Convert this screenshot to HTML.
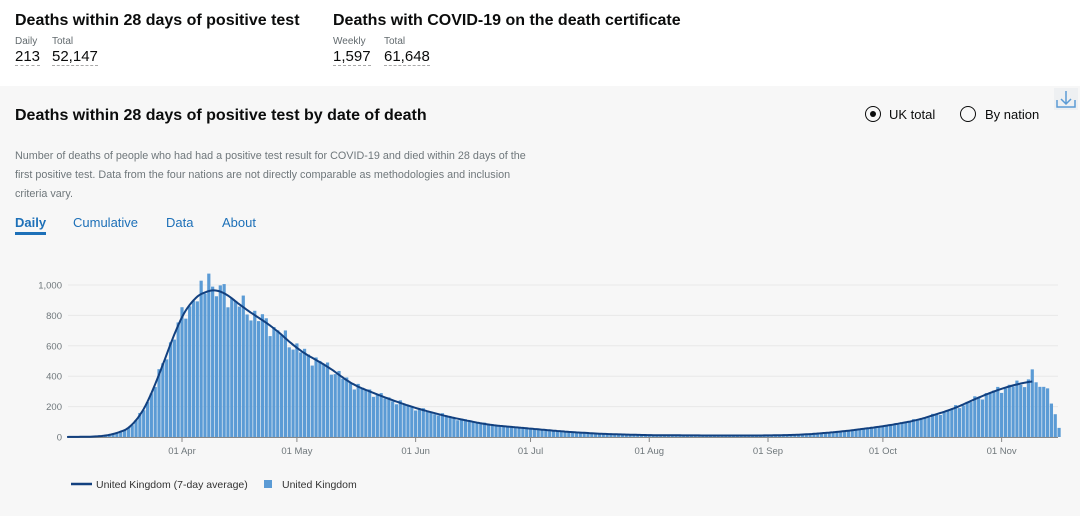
<!DOCTYPE html>
<html><head><meta charset="utf-8"><style>
body{margin:0;width:1080px;height:516px;overflow:hidden;background:#fff;font-family:"Liberation Sans",sans-serif;color:#0b0c0c}
.top{position:absolute;top:0;left:0;width:1080px;height:86px;background:#fff}
h2{position:absolute;margin:0;font-size:16px;font-weight:bold;top:12px}
.lbl{position:absolute;font-size:10px;color:#626a6e;top:36px}
.num{position:absolute;font-size:15px;top:48px;border-bottom:1px dashed #aaa;line-height:17px}
.card{position:absolute;top:86px;left:0;width:1080px;height:430px;background:#f7f7f7}
.t{position:absolute;left:15px;top:107px;font-size:16px;font-weight:bold;margin:0}
.desc{position:absolute;left:15px;top:147px;width:580px;font-size:10.8px;line-height:19px;color:#6f777b;white-space:nowrap}
.tab{position:absolute;top:215px;font-size:13px;color:#1d70b8}
.rad{position:absolute;top:106px;width:14px;height:14px;border:1.5px solid #0b0c0c;border-radius:50%}
</style></head><body>
<div class="top">
<h2 style="left:15px">Deaths within 28 days of positive test</h2>
<div class="lbl" style="left:15px">Daily</div><div class="lbl" style="left:52px">Total</div>
<div class="num" style="left:15px">213</div><div class="num" style="left:52px">52,147</div>
<h2 style="left:333px">Deaths with COVID-19 on the death certificate</h2>
<div class="lbl" style="left:333px">Weekly</div><div class="lbl" style="left:384px">Total</div>
<div class="num" style="left:333px">1,597</div><div class="num" style="left:384px">61,648</div>
</div>
<div class="card"></div>
<h2 class="t">Deaths within 28 days of positive test by date of death</h2>
<div class="desc">Number of deaths of people who had had a positive test result for COVID-19 and died within 28 days of the<br>first positive test. Data from the four nations are not directly comparable as methodologies and inclusion<br>criteria vary.</div>
<div class="tab" style="left:15px;font-weight:bold;color:#1d70b8;border-bottom:3px solid #1d70b8;padding-bottom:2px">Daily</div>
<div class="tab" style="left:73px">Cumulative</div>
<div class="tab" style="left:166px">Data</div>
<div class="tab" style="left:222px">About</div>
<div class="rad" style="left:865px"><div style="width:6px;height:6px;background:#0b0c0c;border-radius:50%;margin:4px"></div></div>
<div style="position:absolute;left:889px;top:107px;font-size:13px">UK total</div>
<div class="rad" style="left:960px"></div>
<div style="position:absolute;left:985px;top:107px;font-size:13px">By nation</div>
<svg style="position:absolute;left:1054px;top:88px" width="24" height="22"><rect width="24" height="22" fill="#eef0f2"/><path d="M12 3v13M7 11l5 5 5-5M3 12v7h18v-7" stroke="#5b9bd5" stroke-width="1.5" fill="none"/></svg>
<svg id="c" style="position:absolute;left:0;top:0" width="1080" height="516"></svg>
<script>
var s=document.getElementById('c'),h='';
var y0=437,k=0.152;
[0,200,400,600,800,1000].forEach(function(v){var y=y0-v*k;
h+='<line x1="68" x2="1058" y1="'+y+'" y2="'+y+'" stroke="#e8e8e8"/>';
h+='<text x="62" y="'+(y+3.5)+'" font-size="9.5" fill="#6f777b" text-anchor="end">'+(v==1000?'1,000':v)+'</text>';});
h+='<line x1="68" x2="1058" y1="437.5" y2="437.5" stroke="#888"/>';
function X(d){return 182+(d-31)*3.83;}
[['01 Apr',31],['01 May',61],['01 Jun',92],['01 Jul',122],['01 Aug',153],['01 Sep',184],['01 Oct',214],['01 Nov',245]].forEach(function(t){var x=X(t[1]);
h+='<line x1="'+x+'" x2="'+x+'" y1="437" y2="442" stroke="#888"/><text x="'+x+'" y="454" font-size="9.5" fill="#6f777b" text-anchor="middle">'+t[0]+'</text>';});
var kp=[[0,0],[9,2],[14,20],[19,80],[24,330],[29,690],[33,900],[38,970],[41,975],[46,870],[50,800],[55,720],[61,580],[65,520],[70,450],[75,350],[80,300],[85,250],[92,190],[101,130],[111,80],[122,55],[131,35],[141,20],[153,12],[167,10],[184,10],[193,15],[203,35],[214,70],[223,110],[233,190],[238,250],[245,320],[252,365],[254,370],[260,370]];
function L(d){if(d<=0)return 0;for(var i=1;i<kp.length;i++){if(d<=kp[i][0]){var a=kp[i-1],b=kp[i];return a[1]+(b[1]-a[1])*(d-a[0])/(b[0]-a[0]);}}return 370;}
function A(d){var t=0,n=0;for(var e=-3;e<=3;e+=0.5){t+=L(d+e);n++;}return t/n;}
var tail={253:445,255:330,256:330,257:320,258:220,259:150,260:60,254:360};
for(var d=3;d<=260;d++){var v=tail[d]!==undefined?tail[d]:A(d)*(1+0.06*Math.sin(d*2.3)+0.04*Math.sin(d*5.1));
if(d==38)v=1075;
var x=X(d),y=y0-v*k;h+='<rect x="'+(x-1.6)+'" y="'+y+'" width="3.2" height="'+(y0-y)+'" fill="#5b9bd5"/>';}
var p='';for(var d=1;d<=253;d+=0.5){p+=(p?'L':'M')+X(d).toFixed(1)+' '+(y0-A(d)*k).toFixed(1);}
h+='<path d="'+p+'" stroke="#12407f" stroke-width="2" fill="none" stroke-linejoin="round"/>';
h+='<line x1="71" x2="92" y1="484" y2="484" stroke="#12407f" stroke-width="2.5"/><text x="96" y="488" font-size="10.5" fill="#333">United Kingdom (7-day average)</text>';
h+='<rect x="264" y="480" width="8" height="8" fill="#5b9bd5"/><text x="282" y="488" font-size="10.5" fill="#333">United Kingdom</text>';
s.innerHTML=h;
</script>
</body></html>
